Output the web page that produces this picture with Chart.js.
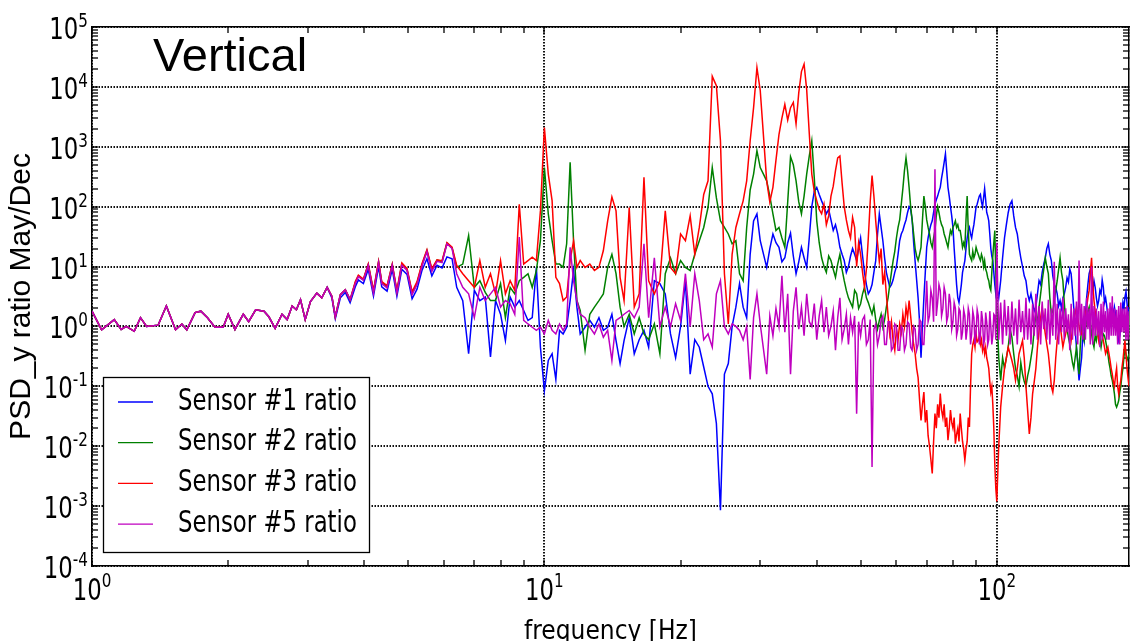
<!DOCTYPE html>
<html>
<head>
<meta charset="utf-8">
<title>PSD ratio vertical</title>
<script src="https://cdn.jsdelivr.net/npm/chart.js@4/dist/chart.umd.min.js"></script>
<style>
    html, body { margin: 0; padding: 0; background: #fff; overflow: hidden; }
    canvas { display: block; }
</style>
</head>
<body>
<canvas id="myChart_vertical" width="1130" height="641"></canvas>
<script>
// frecuencias [Hz]
const freq = [
    // 1 - 6.25 Hz
    1.00, 1.05, 1.12, 1.16, 1.19, 1.24, 1.28, 1.32, 1.40, 1.46,
    1.53, 1.58, 1.62, 1.69, 1.74, 1.80, 1.87, 1.95, 2.00, 2.07,
    2.16, 2.22, 2.30, 2.40, 2.46, 2.54, 2.63, 2.70, 2.77, 2.83,
    2.89, 2.96, 3.04, 3.14, 3.22, 3.31, 3.39, 3.45, 3.54, 3.63,
    3.72, 3.82, 3.88, 3.98, 4.08, 4.19, 4.30, 4.37, 4.49, 4.61,
    4.72, 4.84, 4.97, 5.10, 5.23, 5.36, 5.50, 5.64, 5.79, 5.94,
    6.09, 6.25,
    // 6.4 - 15.8 Hz
    6.4, 6.6, 6.8, 7.0, 7.2, 7.4, 7.6, 7.8, 8.0, 8.2,
    8.4, 8.6, 8.8, 9.0, 9.2, 9.4, 9.6, 9.8, 10.0, 10.2,
    10.4, 10.6, 10.8, 11.0, 11.2, 11.4, 11.6, 11.8, 12.0, 12.3,
    12.6, 12.9, 13.2, 13.5, 13.8, 14.1, 14.4, 14.7, 15.0, 15.4,
    15.8,
    // 16.2 - 30 Hz
    16.2, 16.6, 17, 17.5, 18, 18.5, 19, 19.5, 20, 20.5,
    21, 21.5, 22, 22.5, 23, 23.5, 24, 24.5, 25, 25.5,
    26, 26.5, 27, 27.5, 28, 28.5, 29, 29.5, 30,
    // 31 - 100 Hz
    31, 31.5, 32, 32.5, 33, 33.5, 34, 34.5, 35, 35.5,
    36, 36.5, 37, 37.5, 38, 38.5, 39, 39.5, 40, 40.5,
    41, 41.5, 42, 42.5, 43, 43.5, 44, 44.5, 45, 45.5,
    46, 46.5, 47, 47.5, 48, 48.5, 49, 49.5, 50, 50.5,
    51, 51.5, 52, 52.5, 53, 53.5, 54, 54.5, 55, 55.5,
    56, 56.5, 57, 57.5, 58, 58.5, 59, 59.5, 60, 60.5,
    61, 61.5, 62, 62.5, 63, 63.5, 64, 64.5, 65, 65.5,
    66, 66.5, 67, 67.5, 68, 68.5, 69, 69.5, 70, 70.5,
    71, 71.5, 72, 72.5, 73, 73.5, 74, 74.5, 75, 75.5,
    76, 76.5, 77, 77.5, 78, 78.5, 79, 79.5, 80, 80.5,
    81, 81.5, 82, 82.5, 83, 83.5, 84, 84.5, 85, 85.5,
    86, 86.5, 87, 87.5, 88, 88.5, 89, 89.5, 90, 90.5,
    91, 91.5, 92, 92.5, 93, 93.5, 94, 94.5, 95, 95.5,
    96, 96.5, 97, 97.5, 98, 98.5, 99, 99.5, 100,
    // 101 - 196 Hz
    101, 102, 103, 104, 105, 106, 107, 108, 109, 110,
    111, 112, 113, 114, 115, 116, 117, 118, 119, 120,
    121, 122, 123, 124, 125, 126, 127, 128, 129, 130,
    131, 132, 133, 134, 135, 136, 137, 138, 139, 140,
    141, 142, 143, 144, 145, 146, 147, 148, 149, 150,
    151, 152, 153, 154, 155, 156, 157, 158, 159, 160,
    161, 162, 163, 164, 165, 166, 167, 168, 169, 170,
    171, 172, 173, 174, 175, 176, 177, 178, 179, 180,
    181, 182, 183, 184, 185, 186, 187, 188, 189, 190,
    191, 192, 193, 194, 195, 196
];

// Sensor #1 (azul)
const sensor1 = [
    1.8, 0.88, 1.3, 0.89, 1.0, 0.83, 1.4, 1.0, 1.05, 2.2,
    0.88, 1.1, 0.88, 1.7, 1.8, 1.4, 0.97, 0.97, 1.6, 0.89,
    1.6, 1.2, 1.9, 1.8, 1.45, 0.93, 1.6, 1.3, 2.2, 1.9,
    2.8, 1.3, 2.6, 3.6, 3.0, 4.5, 3.0, 1.35, 3.0, 3.7,
    2.5, 4.6, 6.0, 5.2, 9.0, 3.2, 10.0, 4.6, 3.9, 9.0,
    3.2, 9.0, 7.4, 2.9, 4.2, 8.5, 13.5, 7.0, 10.5, 9.5,
    14.5, 13.5,
    4.5, 2.7, 0.35, 4.0, 2.7, 3.1, 0.31, 2.7, 1.6, 0.58,
    3.1, 2.1, 2.7, 1.85, 1.26, 1.4, 9.7, 0.45, 0.085, 0.27,
    0.35, 0.13, 0.86, 0.75, 0.97, 2.7, 8.6, 2.1, 0.75, 0.97,
    1.26, 0.97, 1.4, 0.86, 0.97, 1.6, 0.58, 0.24, 0.58, 1.4,
    0.35,
    0.6, 0.86, 0.45, 5.8, 5.2, 3.5, 0.75, 0.3, 1.0, 5.8,
    0.16, 0.6, 0.45, 0.21, 0.1, 0.075, 0.024, 0.00085, 0.16, 0.24,
    1.0, 2.1, 5.2, 2.1, 1.4, 16, 58, 76, 27,
    9.7, 20, 35, 25, 21, 12, 14, 25, 36, 15,
    7.6, 12, 21, 14, 9.7, 30, 100, 180, 210, 160,
    125, 100, 76, 90, 60, 40, 50, 35, 21, 16,
    12.6, 8, 10, 15, 20, 16, 12.6, 20, 30, 15,
    8, 5, 3.5, 4, 5, 8, 12.6, 35, 76, 45,
    27, 14, 8, 6, 4.5, 5, 6, 8, 10, 16,
    27, 35, 40, 50, 60, 80, 100, 90, 60, 25,
    12, 6, 3, 1.2, 0.3, 1.0, 3, 8, 21, 30,
    40, 50, 58, 80, 110, 130, 150, 180, 210, 300,
    400, 550, 760, 400, 210, 150, 100, 70, 45, 20,
    10, 5, 3.0, 2.5, 3.5, 5, 8, 10, 12.6, 20,
    30, 40, 45, 35, 30, 40, 50, 70, 100, 110,
    130, 150, 160, 120, 100, 140, 200, 130, 80, 70,
    58, 35, 20, 15, 12.6, 8, 5, 3.5, 4.5,
    3.0, 5.8, 14, 30, 50, 80, 110, 126, 70, 45,
    35, 21, 14, 10, 7, 5.8, 3.5, 2.7, 3.5, 2.5,
    1.8, 2.1, 3.5, 5.8, 5, 8, 11, 14, 20, 24,
    16, 12.6, 7, 5, 4.5, 3.5, 2.2, 2.7, 2.0, 3.0,
    3.5, 4.5, 6.5, 5.5, 9, 7.6, 4, 2, 0.9, 0.45,
    0.25, 0.126, 0.2, 0.3, 0.8, 0.58, 1.5, 3, 5, 7.6,
    9, 5.8, 4, 5.8, 4.5, 3, 2.2, 2.7, 4, 3.5,
    6, 4.5, 2.5, 3.0, 2.2, 1.5, 1.0, 1.26, 1.8, 2.1,
    1.5, 2.1, 1.6, 1.2, 0.8, 0.58, 0.7, 1.0, 1.6, 2.5,
    2.0, 3.1, 3.8, 2.5, 1.6, 2.1
];

// Sensor #2 (verde)
const sensor2 = [
    1.8, 0.88, 1.3, 0.89, 1.0, 0.83, 1.4, 1.0, 1.05, 2.2,
    0.88, 1.1, 0.88, 1.7, 1.8, 1.4, 0.97, 0.97, 1.6, 0.89,
    1.6, 1.2, 1.9, 1.8, 1.45, 0.93, 1.6, 1.3, 2.2, 1.9,
    2.8, 1.3, 2.6, 3.6, 3.0, 4.5, 3.2, 1.45, 3.4, 4.1,
    2.8, 5.4, 7.0, 6.0, 10.8, 3.8, 12, 5.4, 4.6, 10.8,
    3.8, 11, 9.0, 3.6, 5.3, 10.5, 18.5, 8.8, 12.8, 12,
    24.5, 20.5,
    9.7, 11, 33, 4.5, 5.8, 3.7, 2.7, 2.7, 5.2, 1.4,
    4.5, 3.5, 5.8, 6.6, 7.6, 4.5, 8.6, 27, 450, 76,
    27, 11, 11, 9.7, 24, 550, 27, 2.7, 1.85, 0.4,
    1.6, 2.1, 2.7, 3.5, 9.7, 16, 7.6, 2.1, 1.0, 1.6,
    0.75,
    1.4, 0.75, 0.6, 1.1, 0.35, 7.6, 14, 7.6, 12.6, 9.7,
    8.6, 16, 27, 45, 97, 450, 140, 58, 45, 35,
    24, 27, 7.6, 5.8, 45, 190, 350, 860, 450,
    270, 150, 76, 40, 45, 30, 21, 120, 680, 500,
    270, 120, 76, 150, 350, 700, 1260, 300, 58, 25,
    14, 10, 8, 15, 12.6, 9, 6.6, 11, 16, 9,
    5.8, 4, 3, 2.5, 2.1, 4, 3.5, 2, 2.4, 3.5,
    4.5, 3, 2.5, 2, 1.6, 2.2, 1.3, 0.9, 1.26, 1.6,
    0.97, 1.3, 2.1, 3, 5, 8, 12.6, 18, 30, 45,
    60, 110, 200, 400, 650, 400, 210, 100, 60, 35,
    20, 15, 12.6, 16, 21, 60, 150, 100, 60, 45,
    35, 25, 21, 30, 40, 70, 100, 80, 60, 50,
    45, 35, 30, 25, 21, 30, 40, 35, 45, 50,
    58, 45, 50, 40, 40, 30, 21, 25, 21, 60,
    150, 40, 16, 14, 12.6, 18, 14, 16, 21, 18,
    16, 14, 12.6, 16, 14, 10, 12.6, 9, 8, 6.5,
    5.8, 4.5, 4, 8, 15, 25, 40, 8, 2.1,
    0.3, 0.126, 0.3, 0.2, 0.3, 0.45, 0.9, 0.66, 0.35, 0.2,
    0.15, 0.1, 0.25, 0.16, 0.12, 0.1, 0.15, 0.2, 0.3, 0.45,
    0.9, 1.6, 1.2, 2.1, 3.5, 5.8, 9, 14, 10, 7.6,
    3, 1.6, 1.8, 2.7, 4, 5.8, 9, 14, 8, 5.8,
    2.5, 1.26, 0.9, 0.66, 0.5, 0.35, 0.25, 0.2, 0.3, 0.45,
    0.25, 0.16, 0.5, 1.0, 0.7, 0.58, 0.9, 1.26, 1.8, 2.1,
    1.2, 0.75, 0.55, 0.45, 0.7, 0.58, 0.8, 1.0, 0.6, 0.45,
    0.6, 0.75, 0.7, 0.58, 0.45, 0.35, 0.25, 0.2, 0.15, 0.126,
    0.1, 0.075, 0.05, 0.045, 0.05, 0.058, 0.08, 0.1, 0.15, 0.2,
    0.3, 0.45, 0.35, 0.27, 0.3, 0.35
];

// Sensor #3 (rojo)
const sensor3 = [
    1.8, 0.88, 1.3, 0.89, 1.0, 0.83, 1.4, 1.0, 1.05, 2.2,
    0.88, 1.1, 0.88, 1.7, 1.8, 1.4, 0.97, 0.97, 1.6, 0.89,
    1.6, 1.2, 1.9, 1.8, 1.45, 0.93, 1.6, 1.3, 2.2, 1.9,
    2.8, 1.3, 2.6, 3.6, 3.0, 4.5, 3.2, 1.45, 3.4, 4.1,
    2.8, 5.6, 7.2, 6.2, 11, 4.0, 12.2, 5.6, 4.8, 11,
    4.0, 11.5, 9.2, 3.8, 5.6, 11, 19, 9.2, 13, 12.5,
    25, 21,
    10.4, 7.6, 5.8, 4.5, 12.6, 4.5, 7.6, 3.5, 12.6, 3.5,
    5.8, 4.0, 110, 11, 12.6, 14.3, 12.6, 85, 2100, 350,
    126, 6.6, 5.2, 2.7, 3.1, 12.6, 27, 9.7, 12.6, 9.7,
    11, 8.6, 9.7, 18.5, 58, 145, 85, 6.6, 2.7, 97,
    2.1,
    3.5, 310, 5.8, 3.5, 5.8, 85, 9.7, 7.6, 35, 27,
    70, 16, 45, 160, 270, 15000, 10500, 1260, 7.6, 1.1,
    16, 45, 76, 125, 270, 1260, 4500, 21000, 8700,
    270, 120, 210, 600, 1600, 3000, 5100, 2800, 4500, 5500,
    2400, 8000, 18000, 24000, 9000, 1700, 350, 180, 125, 90,
    76, 110, 50, 70, 150, 220, 400, 650, 700, 250,
    100, 60, 40, 30, 66, 45, 10, 25, 16, 8,
    4.5, 9, 30, 120, 330, 150, 58, 25, 12, 20,
    5, 8, 3.5, 1.5, 0.75, 1.2, 0.58, 0.4, 0.9, 0.6,
    1.1, 0.8, 1.6, 1.0, 2.1, 1.4, 2.7, 1.5, 0.8, 0.5,
    0.35, 0.2, 0.14, 0.06, 0.027, 0.05, 0.08, 0.025, 0.04, 0.015,
    0.01, 0.006, 0.0035, 0.012, 0.035, 0.02, 0.05, 0.03, 0.076, 0.04,
    0.03, 0.05, 0.021, 0.03, 0.0126, 0.02, 0.04, 0.025, 0.02, 0.03,
    0.011, 0.016, 0.02, 0.012, 0.035, 0.02, 0.012, 0.009, 0.0058, 0.009,
    0.012, 0.03, 0.021, 0.1, 0.35, 0.5, 0.6, 0.45, 0.75, 0.55,
    0.58, 0.7, 0.5, 0.6, 0.4, 0.5, 0.35, 0.45, 0.3, 0.25,
    0.2, 0.12, 0.08, 0.1, 0.05, 0.02, 0.005, 0.002, 0.0012,
    0.01, 0.045, 0.1, 0.2, 0.3, 0.45, 0.35, 0.27, 0.2, 0.126,
    0.2, 0.35, 0.45, 0.58, 0.3, 0.1, 0.04, 0.016, 0.03, 0.075,
    0.12, 0.2, 0.45, 0.86, 1.4, 2.1, 1.2, 0.75, 0.5, 0.35,
    0.2, 0.1, 0.08, 0.126, 0.3, 0.58, 0.8, 1.1, 0.7, 0.45,
    0.6, 0.75, 1.0, 1.26, 0.8, 0.58, 0.9, 1.26, 1.6, 2.1,
    1.4, 1.0, 0.8, 0.75, 1.0, 1.26, 1.6, 2.1, 3.0, 4.0,
    8, 14, 5, 2.7, 1.8, 1.26, 0.8, 0.58, 0.8, 1.0,
    0.7, 0.58, 0.45, 0.35, 0.4, 0.45, 0.35, 0.27, 0.2, 0.16,
    0.12, 0.1, 0.15, 0.2, 0.1, 0.075, 0.1, 0.126, 0.2, 0.27,
    0.4, 0.58, 0.35, 0.2, 0.14, 0.1
];

// Sensor #5 (magenta)
const sensor5 = [
    1.8, 0.88, 1.3, 0.89, 1.0, 0.83, 1.4, 1.0, 1.05, 2.2,
    0.88, 1.1, 0.88, 1.7, 1.8, 1.4, 0.97, 0.97, 1.6, 0.89,
    1.6, 1.2, 1.9, 1.8, 1.45, 0.93, 1.6, 1.3, 2.2, 1.9,
    2.8, 1.3, 2.6, 3.6, 3.0, 4.5, 3.2, 1.45, 3.4, 4.1,
    2.8, 5.2, 6.8, 5.9, 10.5, 3.6, 11.6, 5.2, 4.4, 10.5,
    3.6, 10.5, 8.6, 3.4, 5.0, 10, 17.7, 8.3, 12.2, 11.6,
    24, 20,
    7.6, 4.5, 3.5, 1.4, 4.5, 2.7, 3.5, 4.5, 2.1, 2.7,
    2.4, 1.6, 31, 1.26, 1.1, 0.97, 0.86, 0.97, 0.75, 1.26,
    0.86, 0.75, 1.1, 0.86, 1.1, 21, 5.8, 2.7, 1.6, 1.4,
    0.97, 0.75, 1.1, 0.66, 0.86, 0.27, 1.26, 1.4, 1.6, 1.85,
    1.4,
    2.1, 24, 1.4, 14, 1.0, 2.1, 1.0, 2.4, 1.26, 7.6,
    1.0, 7.6, 2.7, 0.6, 0.75, 0.45, 3.5, 5.8, 1.0, 0.75,
    1.1, 1.0, 0.86, 0.6, 1.0, 0.13, 1.4, 3.5, 1.1,
    0.16, 1.5, 0.7, 2.0, 1.0, 7.0, 0.8, 3.5, 0.16, 1.8,
    4.5, 0.9, 2.1, 0.7, 3.5, 1.2, 1.0, 2.4, 0.6, 1.5,
    2.7, 0.8, 2.1, 0.7, 1.0, 1.8, 0.4, 1.4, 3.0, 0.6,
    0.9, 1.6, 0.5, 1.4, 0.8, 1.5, 0.035, 1.2, 0.7, 1.3,
    1.5, 0.5, 0.6, 1.3, 0.0045, 0.9, 1.1, 0.5, 0.7, 1.3,
    1.5, 0.5, 0.5, 1.2, 1.2, 0.4, 0.45, 1.1, 1.0, 0.4,
    0.4, 1.0, 0.9, 0.4, 0.5, 1.2, 1.1, 0.45, 0.4, 1.0,
    0.9, 0.4, 0.5, 1.3, 1.2, 0.5, 0.5, 1.5, 5.8, 1.2,
    1.5, 4.0, 3.0, 1.2, 420, 1.5, 2.5, 5.0, 4.0, 1.5,
    2.0, 4.5, 3.5, 1.2, 1.5, 3.5, 2.5, 0.9, 1.2, 2.5,
    2.0, 0.7, 0.9, 2.0, 1.8, 0.6, 0.8, 1.9, 1.5, 0.6,
    0.9, 2.0, 1.6, 0.5, 0.75, 1.8, 1.4, 0.5, 0.8, 1.9,
    1.5, 0.5, 0.7, 1.8, 1.3, 0.5, 0.6, 1.7, 1.2, 0.5,
    0.6, 1.8, 1.0, 0.5, 0.7, 1.6, 1.5, 0.6, 25,
    0.6, 2.5, 0.5, 2.8, 0.7, 2.2, 0.5, 2.6, 0.7, 2.0,
    0.5, 2.8, 0.8, 1.8, 0.6, 3.0, 0.6, 2.0, 0.5, 2.4,
    0.7, 3.5, 0.6, 2.2, 0.5, 2.6, 0.9, 2.0, 0.6, 2.8,
    0.5, 2.0, 0.7, 12, 0.6, 2.4, 0.5, 2.0, 0.8, 3.0,
    0.6, 2.0, 0.8, 1.6, 0.4, 2.4, 0.6, 2.0, 0.7, 2.6,
    0.5, 12.6, 0.7, 2.4, 0.6, 2.2, 0.6, 3.0, 0.9, 2.0,
    0.5, 10, 0.5, 2.2, 0.7, 2.0, 0.7, 1.8, 0.45, 2.4,
    0.6, 2.6, 0.8, 1.8, 0.6, 2.0, 0.6, 2.5, 0.7, 3.2,
    0.7, 2.0, 0.7, 1.9, 0.5, 2.2, 0.5, 2.5, 0.8, 2.0,
    0.8, 2.0, 0.6, 2.2, 0.6, 1.8
];

const etiquetas = ['Sensor #1 ratio', 'Sensor #2 ratio', 'Sensor #3 ratio', 'Sensor #5 ratio'];
const colores = ['#0000ff', '#008000', '#ff0000', '#bf00bf'];

// marcas de los ejes
const xTicks = [1, 2, 3, 4, 5, 6, 7, 8, 9, 10, 20, 30, 40, 50, 60, 70, 80, 90, 100];
const xMayores = [1, 10, 100];
const yMayores = [1e-4, 1e-3, 1e-2, 1e-1, 1, 1e1, 1e2, 1e3, 1e4, 1e5];
const yMultiplos = [1, 2, 3, 4, 5, 6, 7, 8, 9];

const fuenteTexto = '"DejaVu Sans", sans-serif';
const fuenteEstrecha = '"DejaVu Sans Condensed", "DejaVu Sans", sans-serif';
const fuenteNormal = '"Liberation Sans", Arial, sans-serif';
const compresion = 0.76; // el texto del original esta algo estrecho

function esMayor(lista, valor) {
    return lista.some(v => Math.abs(v - valor) / v < 1e-6);
}

function ticksY() {
    const lista = [];
    yMayores.forEach(m => {
        if (m === 1e5) { lista.push({ value: m }); return; }
        yMultiplos.forEach(k => lista.push({ value: m * k }));
    });
    return lista;
}

function anchoTexto(ctx, texto, fuente) {
    ctx.font = fuente;
    return ctx.measureText(texto).width * compresion;
}

function textoEstrecho(ctx, texto, x, y, fuente) {
    ctx.save();
    ctx.font = fuente;
    ctx.translate(x, y);
    ctx.scale(compresion, 1);
    ctx.fillText(texto, 0, 0);
    ctx.restore();
}

// etiquetas 10^n con exponente
const etiquetasPotencias = {
    id: 'etiquetasPotencias',
    afterDraw(chart) {
        const ctx = chart.ctx;
        const xs = chart.scales.x;
        const ys = chart.scales.y;
        const base = '30px ' + fuenteTexto;
        const sup = '20px ' + fuenteTexto;
        ctx.save();
        ctx.fillStyle = '#000';
        ctx.textBaseline = 'alphabetic';
        ctx.textAlign = 'left';
        xMayores.forEach(v => {
            const px = xs.getPixelForValue(v);
            const exp = String(Math.round(Math.log10(v)));
            const w1 = anchoTexto(ctx, '10', base);
            const w2 = anchoTexto(ctx, exp, sup);
            const x0 = px - (w1 + w2) / 2;
            textoEstrecho(ctx, '10', x0, xs.top + 34, base);
            textoEstrecho(ctx, exp, x0 + w1, xs.top + 21, sup);
        });
        yMayores.forEach(v => {
            const py = ys.getPixelForValue(v);
            const exp = String(Math.round(Math.log10(v)));
            const w1 = anchoTexto(ctx, '10', base);
            const w2 = anchoTexto(ctx, exp, sup);
            const derecha = ys.right - 4;
            textoEstrecho(ctx, '10', derecha - w2 - w1, py + 12, base);
            textoEstrecho(ctx, exp, derecha - w2, py, sup);
        });
        ctx.restore();
    }
};

// texto "Vertical" y leyenda con marco
const textoYLeyenda = {
    id: 'textoYLeyenda',
    afterDraw(chart) {
        const { ctx, chartArea } = chart;
        ctx.save();
        ctx.fillStyle = '#000';
        ctx.font = '47px ' + fuenteNormal;
        ctx.textBaseline = 'alphabetic';
        ctx.fillText('Vertical', chartArea.left + 61, chartArea.top + 44);

        const x0 = chartArea.left + 11;
        const y0 = chartArea.bottom - 189;
        ctx.fillStyle = '#fff';
        ctx.fillRect(x0, y0, 266, 175);
        ctx.strokeStyle = '#000';
        ctx.lineWidth = 1.3;
        ctx.strokeRect(x0 + 0.5, y0 + 0.5, 266, 175);
        ctx.textBaseline = 'middle';
        chart.data.datasets.forEach((ds, i) => {
            const yy = y0 + 25 + i * 40.7;
            ctx.strokeStyle = ds.borderColor;
            ctx.lineWidth = 1.3;
            ctx.beginPath();
            ctx.moveTo(x0 + 15, yy);
            ctx.lineTo(x0 + 50, yy);
            ctx.stroke();
            ctx.fillStyle = '#000';
            textoEstrecho(ctx, ds.label, x0 + 75, yy, '30px ' + fuenteTexto);
        });
        ctx.restore();
    }
};

function ejeLog(opciones) {
    return Object.assign({
        type: 'logarithmic',
        ticks: { display: false },
        border: { display: true, color: '#000', width: 1.5, dash: [1.5, 1.5] },
        grid: {
            drawOnChartArea: false,
            drawTicks: true,
            tickLength: -6,
            tickWidth: 1.3,
            tickColor: '#000',
            lineWidth: 2
        }
    }, opciones);
}

function inicializarGrafica() {
    const ctx = document.getElementById('myChart_vertical').getContext('2d');
    const series = [sensor1, sensor2, sensor3, sensor5];

    const datasets = series.map((valores, i) => ({
        label: etiquetas[i],
        data: freq.map((f, j) => ({ x: f, y: valores[j] })),
        borderColor: colores[i],
        backgroundColor: colores[i],
        borderWidth: 1.5,
        pointRadius: 0,
        fill: false,
        tension: 0,
        order: 4 - i // el ultimo queda encima
    }));

    const colorGridX = c => (c.tick && esMayor(xMayores, c.tick.value)) ? '#111' : 'rgba(0,0,0,0)';
    const colorGridY = c => (c.tick && esMayor(yMayores, c.tick.value)) ? '#111' : 'rgba(0,0,0,0)';

    new Chart(ctx, {
        type: 'line',
        data: { datasets: datasets },
        plugins: [etiquetasPotencias, textoYLeyenda],
        options: {
            responsive: false,
            animation: false,
            devicePixelRatio: 1,
            events: [],
            layout: { padding: 0 },
            plugins: {
                legend: { display: false },
                tooltip: { enabled: false },
                title: { display: false }
            },
            scales: {
                x: ejeLog({
                    position: 'bottom',
                    min: 1,
                    max: 196,
                    afterBuildTicks: s => { s.ticks = xTicks.map(v => ({ value: v })); },
                    afterFit: s => { s.height = 75; },
                    grid: {
                        drawOnChartArea: true,
                        drawTicks: true,
                        tickLength: -6,
                        tickWidth: 1.3,
                        tickColor: '#000',
                        lineWidth: 2,
                        color: colorGridX
                    },
                    title: {
                        display: true,
                        text: 'frequency [Hz]',
                        color: '#000',
                        font: { family: fuenteEstrecha, size: 26, lineHeight: 0.7 },
                        padding: 0
                    }
                }),
                x2: ejeLog({
                    position: 'top',
                    min: 1,
                    max: 196,
                    afterBuildTicks: s => { s.ticks = xTicks.map(v => ({ value: v })); },
                    afterFit: s => { s.height = 27; }
                }),
                y: ejeLog({
                    position: 'left',
                    min: 1e-4,
                    max: 1e5,
                    afterBuildTicks: s => { s.ticks = ticksY(); },
                    afterFit: s => { s.width = 92; },
                    grid: {
                        drawOnChartArea: true,
                        drawTicks: true,
                        tickLength: -6,
                        tickWidth: 1.3,
                        tickColor: '#000',
                        lineWidth: 2,
                        color: colorGridY
                    },
                    title: {
                        display: true,
                        text: 'PSD_y ratio May/Dec',
                        color: '#000',
                        font: { family: fuenteNormal, size: 30, lineHeight: 1.2 },
                        padding: { top: 4, bottom: 0 }
                    }
                }),
                y2: ejeLog({
                    position: 'right',
                    min: 1e-4,
                    max: 1e5,
                    afterBuildTicks: s => { s.ticks = ticksY(); },
                    afterFit: s => { s.width = 1; }
                })
            }
        }
    });
}

inicializarGrafica();
</script>
</body>
</html>
